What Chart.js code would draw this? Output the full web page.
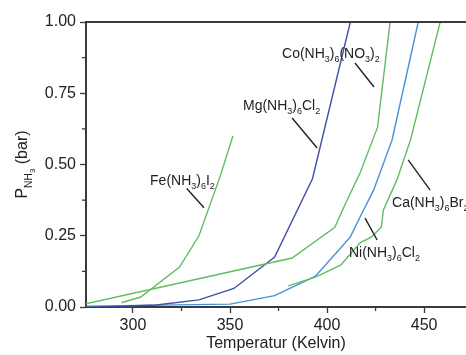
<!DOCTYPE html>
<html>
<head>
<meta charset="utf-8">
<script src="https://cdn.jsdelivr.net/npm/chart.js@4.4.1/dist/chart.umd.min.js"></script>
<style>
    body { margin: 0; background: #fff; }
</style>
</head>
<body>
<canvas id="grafico" width="466" height="355"></canvas>
<script>
// temperatura (K) e pressao de NH3 (bar) de cada composto
var feT = [294, 304, 324, 334, 345, 351.5]
var feP = [0.015, 0.035, 0.14, 0.25, 0.46, 0.60]
var mgT = [283, 312, 334, 352, 373, 392.5, 412]
var mgP = [0, 0.007, 0.025, 0.065, 0.175, 0.45, 1.0]
var coT = [275, 382, 404, 410, 417, 426, 432.5]
var coP = [0.01, 0.172, 0.28, 0.37, 0.47, 0.63, 1.0]
var niT = [276, 350, 373, 394, 407, 412, 417, 424, 433.5, 447]
var niP = [0.003, 0.01, 0.04, 0.108, 0.207, 0.246, 0.316, 0.41, 0.586, 1.0]
var caT = [380, 394, 407, 417, 423, 428, 429, 436, 443, 458.3]
var caP = [0.074, 0.105, 0.147, 0.225, 0.246, 0.281, 0.34, 0.446, 0.586, 1.0]

var xTicks = [300, 350, 400, 450]
var xMenores = [325, 375, 425]
var yTicks = [0, 0.25, 0.5, 0.75, 1.0]
var yMenores = [0.125, 0.375, 0.625, 0.875]

// rotulos dos compostos: texto, canto esquerdo (x, y) e traco ate a curva
var rotulos = [
    { txt: 'Fe(NH3)6I2', x: 308.8, y: 0.446, linha: [327.7, 0.416, 336.6, 0.348] },
    { txt: 'Mg(NH3)6Cl2', x: 356.7, y: 0.709, linha: [382, 0.663, 394.9, 0.558] },
    { txt: 'Co(NH3)6(NO3)2', x: 376.8, y: 0.891, linha: [414.4, 0.856, 424.2, 0.772] },
    { txt: 'Ca(NH3)6Br2', x: 433.5, y: 0.368, linha: [441.8, 0.516, 453.1, 0.41] },
    { txt: 'Ni(NH3)6Cl2', x: 411.3, y: 0.193, linha: [419.6, 0.312, 425.8, 0.235] }
]

var verde = '#63bb63'
var azulEscuro = '#3f4fa6'
var azulClaro = '#4a8fd8'
var corEixo = '#3a3a3a'
var fonte = '"Liberation Sans", Arial, sans-serif'

Chart.defaults.font.family = fonte

function pontos(t, p) {
    var lista = []
    for (var i = 0; i < t.length; i++) {
        lista.push({ x: t[i], y: p[i] })
    }
    return lista
}

function serie(t, p, cor) {
    return {
        data: pontos(t, p),
        borderColor: cor,
        borderWidth: 1.4,
        pointRadius: 0,
        tension: 0,
        fill: false
    }
}

// digitos de uma formula viram subscrito
function partesFormula(txt) {
    var partes = []
    for (var i = 0; i < txt.length; i++) {
        var n = /[0-9]/.test(txt[i]) ? 1 : 0
        if (partes.length && partes[partes.length - 1].n == n) {
            partes[partes.length - 1].t += txt[i]
        } else {
            partes.push({ t: txt[i], n: n })
        }
    }
    return partes
}

function escreverRico(c, partes, x, y, base, medir) {
    var tam = [base, base * 0.64, base * 0.5]
    var desce = [0, base * 0.3, base * 0.5]
    var cx = x
    partes.forEach(function (p) {
        c.font = tam[p.n] + 'px ' + fonte
        if (!medir) c.fillText(p.t, cx, y + desce[p.n])
        cx += c.measureText(p.t).width
    })
    return cx - x
}

var moldura = {
    id: 'moldura',
    afterDraw: function (chart) {
        var c = chart.ctx
        var area = chart.chartArea
        var sx = chart.scales.x
        var sy = chart.scales.y
        c.save()
        c.strokeStyle = corEixo
        c.lineWidth = 2
        c.beginPath()
        c.moveTo(area.left - 1, area.top)
        c.lineTo(area.right, area.top)
        c.stroke()

        c.lineWidth = 1.3
        xMenores.forEach(function (v) {
            var px = sx.getPixelForValue(v)
            c.beginPath()
            c.moveTo(px, area.bottom)
            c.lineTo(px, area.bottom + 4)
            c.stroke()
        })
        yMenores.forEach(function (v) {
            var py = sy.getPixelForValue(v)
            c.beginPath()
            c.moveTo(area.left, py)
            c.lineTo(area.left - 4, py)
            c.stroke()
        })

        // titulo do eixo y: P com NH3 subscrito
        var tituloY = [{ t: 'P', n: 0 }, { t: 'NH', n: 1 }, { t: '3', n: 2 }, { t: ' (bar)', n: 0 }]
        c.fillStyle = '#222'
        c.textBaseline = 'alphabetic'
        c.translate(21, (area.top + area.bottom) / 2)
        c.rotate(-Math.PI / 2)
        var w = escreverRico(c, tituloY, 0, 0, 16, true)
        escreverRico(c, tituloY, -w / 2, 6, 16, false)
        c.restore()

        c.save()
        c.fillStyle = '#222'
        c.strokeStyle = '#222'
        c.lineWidth = 1.4
        c.textBaseline = 'alphabetic'
        rotulos.forEach(function (r) {
            escreverRico(c, partesFormula(r.txt), sx.getPixelForValue(r.x), sy.getPixelForValue(r.y) + 5, 14, false)
            c.beginPath()
            c.moveTo(sx.getPixelForValue(r.linha[0]), sy.getPixelForValue(r.linha[1]))
            c.lineTo(sx.getPixelForValue(r.linha[2]), sy.getPixelForValue(r.linha[3]))
            c.stroke()
        })
        c.restore()
    }
}

const ctx = document.getElementById('grafico')

new Chart(ctx, {
    type: 'line',
    data: {
        datasets: [
            serie(feT, feP, verde),
            serie(coT, coP, verde),
            serie(caT, caP, verde),
            serie(mgT, mgP, azulEscuro),
            serie(niT, niP, azulClaro)
        ]
    },
    options: {
        responsive: false,
        animation: false,
        layout: { padding: { top: 22, right: 0, left: 0, bottom: 0 } },
        plugins: {
            legend: { display: false },
            tooltip: { enabled: false }
        },
        scales: {
            x: {
                type: 'linear',
                min: 275.8,
                max: 471.6,
                afterBuildTicks: function (s) { s.ticks = xTicks.map(function (v) { return { value: v } }) },
                afterFit: function (s) { s.height = 48 },
                grid: { drawOnChartArea: false, tickLength: 6, tickColor: corEixo, tickWidth: 1.3 },
                border: { color: corEixo, width: 2 },
                ticks: { color: '#222', font: { size: 16 }, padding: 3, maxRotation: 0 },
                title: {
                    display: true,
                    text: 'Temperatur (Kelvin)',
                    color: '#222',
                    font: { size: 16 },
                    padding: { top: 0, bottom: 2 }
                }
            },
            y: {
                type: 'linear',
                min: 0,
                max: 1,
                afterBuildTicks: function (s) { s.ticks = yTicks.map(function (v) { return { value: v } }) },
                afterFit: function (s) { s.width = 86 },
                grid: { drawOnChartArea: false, tickLength: 6, tickColor: corEixo, tickWidth: 1.3 },
                border: { color: corEixo, width: 2 },
                ticks: {
                    color: '#222',
                    font: { size: 16 },
                    padding: 4,
                    callback: function (v) { return v.toFixed(2) }
                }
            }
        }
    },
    plugins: [moldura]
});
</script>
</body>
</html>
